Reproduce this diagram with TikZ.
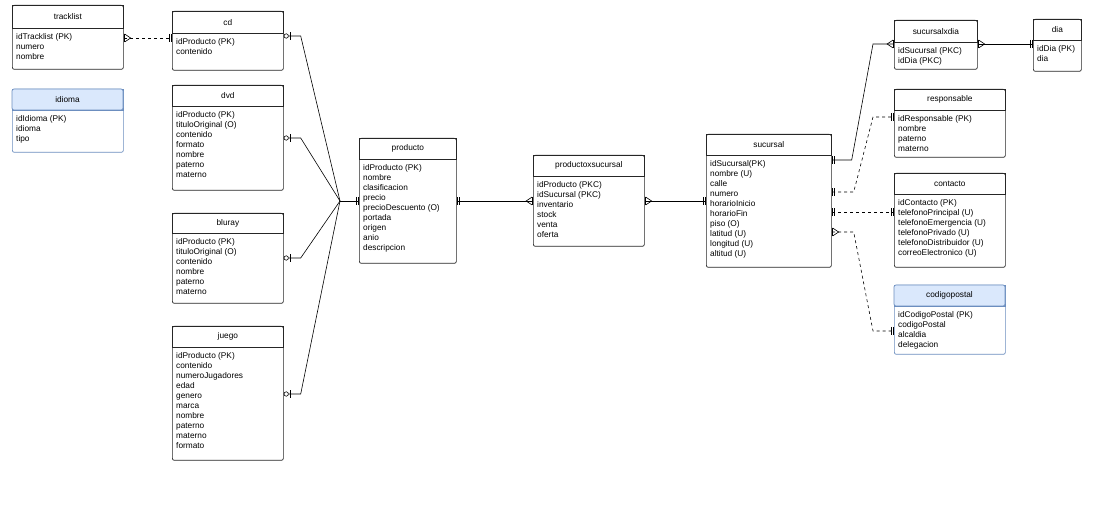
\documentclass[tikz,border=0pt]{standalone}
\usepackage{fontspec}
\setmainfont{Liberation Sans}
\usetikzlibrary{arrows.meta}
\definecolor{blueHead}{HTML}{DAE8FC}
\definecolor{blueLine}{HTML}{6C8EBF}
\tikzset{
	entity/.style={draw=black!85, fill=white, rounded corners=2pt, line width=0.7pt},
	head/.style={draw=black!85, line width=0.7pt, font=\fontsize{8.3}{9}\selectfont, inner sep=0pt},
	attr/.style={align=left, inner sep=0pt, font=\fontsize{8.3}{10}\selectfont},
	blue/.style={draw=blueLine},
	rel/.style={line width=0.6pt},
	dashrel/.style={rel, dashed},
	one/.tip={Bar[width=8pt,sep=2pt]Bar[width=8pt]},
	many/.tip={Straight Barb[reversed,length=6pt,width=8pt,sep=0pt,line width=0.6pt]Bar[width=8pt]},
	opt/.tip={Bar[width=8pt,sep=1pt]Circle[open,length=5pt,fill=white]},
}
% name, x, y, w, h, header height, title, lines
\newcommand\entity[9][]{
	\node[entity, #1, minimum width=#5pt, minimum height=#6pt, anchor=north west] (#2) at (#3,#4) {};
	\node[head, #1, minimum width=#5pt, minimum height=#7pt, anchor=north west] (#2-h) at (#3,#4) {#8};
	\node[attr, anchor=north west] (#2-a) at (#3+4,#4+#7+5) {#9};
}
\begin{document}
\begin{tikzpicture}[x=1pt, y=-1pt]
	\useasboundingbox (0,0) rectangle (1093,518);
	\entity{tracklist}{12}{5}{111}{64}{23}{tracklist}{idTracklist (PK)\\numero\\nombre}
	\entity[blue]{idioma}{12}{89}{111}{63}{21}{idioma}{idIdioma (PK)\\idioma\\tipo}
	\fill[blueHead, draw=blueLine, line width=0.7pt, rounded corners=2pt] (12,89) rectangle (123,110);
	\node[head, draw=none] (idioma-t) at (67.5,99.5) {idioma};
	\entity{cd}{172}{11}{111}{59}{22}{cd}{idProducto (PK)\\contenido}
	\entity{dvd}{172}{85}{111}{105}{21}{dvd}{idProducto (PK)\\tituloOriginal (O)\\contenido\\formato\\nombre\\paterno\\materno}
	\entity{bluray}{172}{213}{111}{90}{20}{bluray}{idProducto (PK)\\tituloOriginal (O)\\contenido\\nombre\\paterno\\materno}
	\entity{juego}{172}{326}{111}{134}{21}{juego}{idProducto (PK)\\contenido\\numeroJugadores\\edad\\genero\\marca\\nombre\\paterno\\materno\\formato}
	\entity{producto}{359}{138}{97}{125}{21}{producto}{idProducto (PK)\\nombre\\clasificacion\\precio\\precioDescuento (O)\\portada\\origen\\anio\\descripcion}
	\entity{pxs}{533}{155}{111}{91}{21}{productoxsucursal}{idProducto (PKC)\\idSucursal (PKC)\\inventario\\stock\\venta\\oferta}
	\entity{sucursal}{706}{134}{125}{133}{21}{sucursal}{idSucursal(PK)\\nombre (U)\\calle\\numero\\horarioInicio\\horarioFin\\piso (O)\\latitud (U)\\longitud (U)\\altitud (U)}
	\entity{sxd}{894}{20}{83}{49}{22}{sucursalxdia}{idSucursal (PKC)\\idDia (PKC)}
	\entity{dia}{1033}{19}{48}{52}{21}{dia}{idDia (PK)\\dia}
	\entity{responsable}{894}{89}{111}{68}{21}{responsable}{idResponsable (PK)\\nombre\\paterno\\materno}
	\entity{contacto}{894}{173}{111}{94}{21}{contacto}{idContacto (PK)\\telefonoPrincipal (U)\\telefonoEmergencia (U)\\telefonoPrivado (U)\\telefonoDistribuidor (U)\\correoElectronico (U)}
	\entity[blue]{codigopostal}{894}{285}{111}{69}{21}{codigopostal}{idCodigoPostal (PK)\\codigoPostal\\alcaldia\\delegacion}
	\fill[blueHead, draw=blueLine, line width=0.7pt, rounded corners=2pt] (894,285) rectangle (1005,306);
	\node[head, draw=none] (codigopostal-t) at (949.5,295.5) {codigopostal};
	% subtipos de producto
	\coordinate (hub) at (340,201);
	\draw[rel, opt-] ([yshift=-25pt]cd.north east) -- +(17,0) -- (hub);
	\draw[rel, opt-] ([yshift=-53pt]dvd.north east) -- +(17,0) -- (hub);
	\draw[rel, opt-] ([yshift=-45pt]bluray.north east) -- +(17,0) -- (hub);
	\draw[rel, opt-] ([yshift=-68pt]juego.north east) -- +(17,0) -- (hub);
	\draw[rel, -one] (hub) -- ([yshift=-63pt]producto.north west);
	\draw[dashrel, many-one] ([yshift=-33pt]tracklist.north east) -- ([yshift=-27pt]cd.north west);
	% tablas intermedias
	\draw[rel, one-many] ([yshift=-63pt]producto.north east) -- ([yshift=-46pt]pxs.north west);
	\draw[rel, many-one] ([yshift=-46pt]pxs.north east) -- ([yshift=-67pt]sucursal.north west);
	\draw[rel, one-many] ([yshift=-26pt]sucursal.north east) -- +(20,0) -- (873,44) -- ([yshift=-24pt]sxd.north west);
	\draw[rel, many-one] ([yshift=-24pt]sxd.north east) -- ([yshift=-25pt]dia.north west);
	% atributos de sucursal
	\draw[dashrel, one-one] ([yshift=-58pt]sucursal.north east) -- +(22,0) -- (873,117) -- ([yshift=-28pt]responsable.north west);
	\draw[dashrel, one-one] ([yshift=-78pt]sucursal.north east) -- ([yshift=-39pt]contacto.north west);
	\draw[dashrel, many-one] ([yshift=-98pt]sucursal.north east) -- +(22,0) -- (873,331) -- ([yshift=-46pt]codigopostal.north west);
\end{tikzpicture}
\end{document}
